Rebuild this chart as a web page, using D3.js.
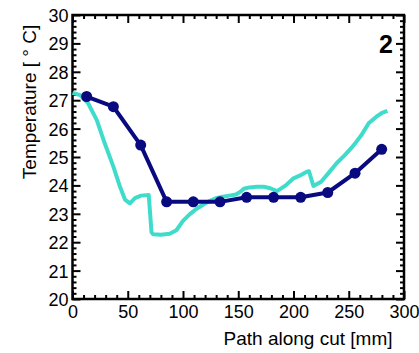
<!DOCTYPE html>
<html>
<head>
<meta charset="utf-8">
<script src="https://cdn.jsdelivr.net/npm/d3@7"></script>
<style>
  body { margin: 0; background: #fff; }
  text { font-family: "Liberation Sans", Arial, sans-serif; }
  .axis path { display: none; }
  .axis line { stroke: #000; stroke-width: 2; }
  .axis text { font-size: 18px; fill: #000; }
</style>
</head>
<body>
<div id="chart"></div>
<script>
// measured probe positions along the cut and temperatures
var probeX = [12.8, 37, 61.7, 85.2, 109.3, 133.5, 157.6, 182, 206.5, 231, 255.7, 279.8];
var probeT = [27.13, 26.77, 25.42, 23.42, 23.42, 23.42, 23.58, 23.58, 23.58, 23.75, 24.43, 25.27];

// continuous (simulated) profile
var simX = [0, 7, 14, 22, 29, 37, 43, 47.5, 52, 56.5, 62, 69, 71.5, 73, 80, 88, 94, 100, 106, 112,
            118, 124, 130, 136, 142, 148, 152, 155, 160, 167, 173, 179, 185, 193, 200, 206, 212,
            214, 218, 225, 232, 239, 246, 252, 257, 262, 268, 275, 280, 285];
var simT = [27.26, 27.18, 26.9, 26.3, 25.5, 24.66, 23.95, 23.5, 23.37, 23.55, 23.64, 23.66, 22.35,
            22.28, 22.26, 22.3, 22.42, 22.75, 22.98, 23.17, 23.32, 23.45, 23.55, 23.6, 23.64, 23.68,
            23.78, 23.88, 23.93, 23.95, 23.95, 23.9, 23.8, 24.0, 24.25, 24.35, 24.48, 24.5, 23.98,
            24.13, 24.45, 24.78, 25.05, 25.3, 25.54, 25.8, 26.19, 26.42, 26.55, 26.62];

var xTicks = [0, 50, 100, 150, 200, 250, 300];
var yTicks = [20, 21, 22, 23, 24, 25, 26, 27, 28, 29, 30];
var panelLabel = "2";

// Set Margins
var margin = {top: 15, right: 15, bottom: 54, left: 72.5},
    width = 419 - margin.left - margin.right,
    height = 353 - margin.top - margin.bottom;

var svg = d3.select("#chart")
  .append("svg")
    .attr("width", 419)
    .attr("height", 353)
  .append("g")
    .attr("transform", "translate(" + margin.left + "," + margin.top + ")");

var x = d3.scaleLinear().domain([0, 300]).range([0, width]);
var y = d3.scaleLinear().domain([20, 30]).range([height, 0]);

var xMinor = d3.range(0, 301, 10).filter(function(d) { return d % 50 !== 0; });
var yMinor = d3.range(200, 301, 2).map(function(d) { return d / 10; })
  .filter(function(d) { return Math.abs(d - Math.round(d)) > 0.01; });

// inward ticks on all four sides
function addAxis(gen, scale, vals, size, labels, tr, cls) {
  var a = gen(scale).tickValues(vals).tickSize(-size).tickPadding(size + 4);
  if (!labels) a.tickFormat("");
  svg.append("g")
    .attr("class", "axis " + cls)
    .attr("transform", tr)
    .call(a);
}
addAxis(d3.axisBottom, x, xTicks, 8, true, "translate(0," + height + ")", "axis--x");
addAxis(d3.axisBottom, x, xMinor, 4, false, "translate(0," + height + ")", "");
addAxis(d3.axisTop, x, xTicks, 8, false, "translate(0,0)", "");
addAxis(d3.axisTop, x, xMinor, 4, false, "translate(0,0)", "");
addAxis(d3.axisLeft, y, yTicks, 8, true, "translate(0,0)", "axis--y");
addAxis(d3.axisLeft, y, yMinor, 4, false, "translate(0,0)", "");
addAxis(d3.axisRight, y, yTicks, 8, false, "translate(" + width + ",0)", "");
addAxis(d3.axisRight, y, yMinor, 4, false, "translate(" + width + ",0)", "");

svg.selectAll(".axis--x text").attr("y", 6).attr("dy", "0.71em");
svg.selectAll(".axis--y text").attr("x", -4).attr("dy", "0.36em");

// frame
svg.append("rect")
  .attr("width", width)
  .attr("height", height)
  .attr("fill", "none")
  .attr("stroke", "#000")
  .attr("stroke-width", 2.5);

var line = d3.line()
  .x(function(d) { return x(d[0]); })
  .y(function(d) { return y(d[1]); });

svg.append("path")
  .datum(d3.zip(simX, simT))
  .attr("fill", "none")
  .attr("stroke", "#40dccb")
  .attr("stroke-width", 4)
  .attr("stroke-linejoin", "round")
  .attr("d", line);

var probe = d3.zip(probeX, probeT);
svg.append("path")
  .datum(probe)
  .attr("fill", "none")
  .attr("stroke", "#0a0a80")
  .attr("stroke-width", 4)
  .attr("stroke-linejoin", "round")
  .attr("d", line);

svg.selectAll(".dot")
  .data(probe)
  .enter().append("circle")
  .attr("class", "dot")
  .attr("cx", function(d) { return x(d[0]); })
  .attr("cy", function(d) { return y(d[1]); })
  .attr("r", 5.5)
  .attr("fill", "#0a0a80");

// labels
svg.append("text")
  .attr("x", 235.5)
  .attr("y", height + 46)
  .attr("text-anchor", "middle")
  .style("font-size", "19px")
  .text("Path along cut [mm]");

svg.append("text")
  .attr("transform", "rotate(-90)")
  .attr("x", -87)
  .attr("y", -36.5)
  .attr("text-anchor", "middle")
  .style("font-size", "19px")
  .text("Temperature [ ° C]");

svg.append("text")
  .attr("x", width - 18)
  .attr("y", 38)
  .attr("text-anchor", "middle")
  .style("font-size", "25px")
  .style("font-weight", "bold")
  .text(panelLabel);
</script>
</body>
</html>
